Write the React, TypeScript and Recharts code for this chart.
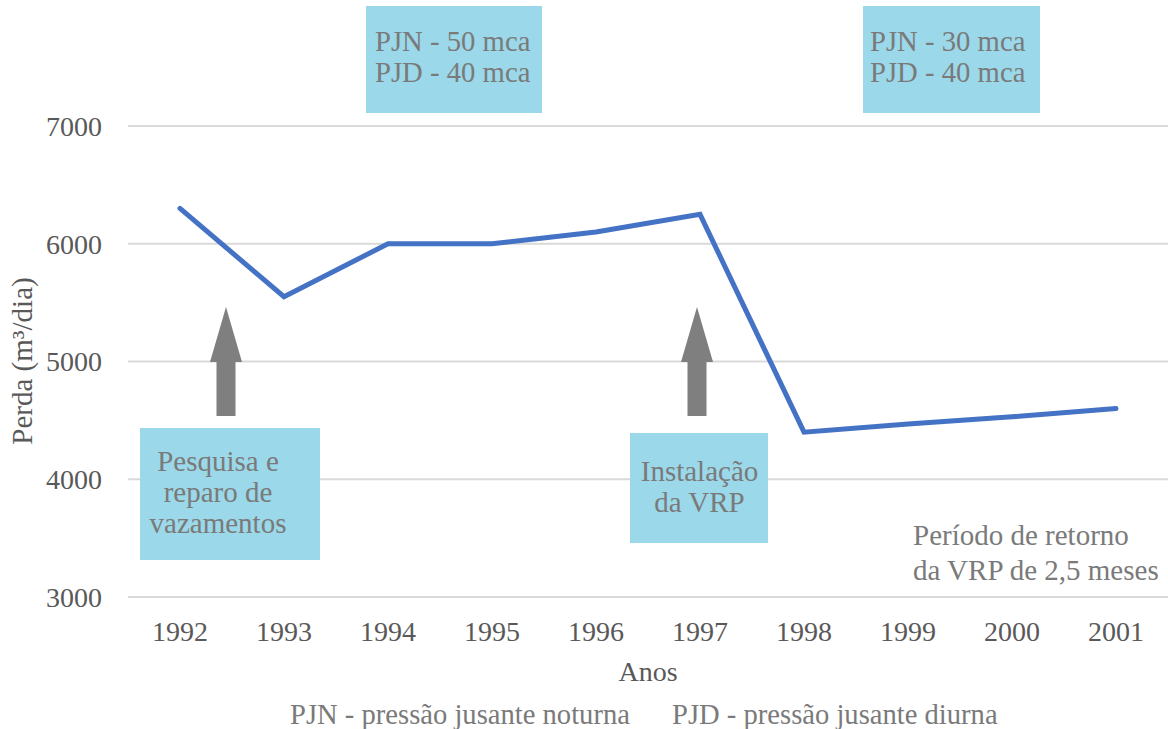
import React from 'react';
import { LineChart, Line, XAxis, YAxis, CartesianGrid } from 'recharts';

const years = ['1992', '1993', '1994', '1995', '1996', '1997', '1998', '1999', '2000', '2001'];
const perda = [6300, 5550, 6000, 6000, 6100, 6250, 4400, 4470, 4530, 4600];
const yTicks = [3000, 4000, 5000, 6000, 7000];

const data = years.map((y, i) => ({ year: y, perda: perda[i] }));

const FONT = '"Liberation Serif", "Times New Roman", serif';
const BOX = '#9bd8e9';
const TXT = '#7a7a7a';
const TICK = '#595959';

const boxStyle = (left: number, top: number, width: number, height: number): React.CSSProperties => ({
  position: 'absolute', left, top, width, height, background: BOX,
});

const textStyle = (left: number, top: number, width: number, align: 'left' | 'center', size = 29): React.CSSProperties => ({
  position: 'absolute', left, top, width, textAlign: align, fontFamily: FONT, fontSize: size,
  lineHeight: '31px', color: TXT, whiteSpace: 'nowrap',
});

function Arrow({ cx }: { cx: number }) {
  const tip = 307, base = 362, bottom = 416, hw = 16, sw = 9.5;
  return (
    <polygon
      points={`${cx},${tip} ${cx + hw},${base} ${cx + sw},${base} ${cx + sw},${bottom} ${cx - sw},${bottom} ${cx - sw},${base} ${cx - hw},${base}`}
      fill="#7f7f7f"
    />
  );
}

export default function App() {
  return (
    <div style={{ position: 'absolute', left: 0, top: 0, width: 1168, height: 729, background: '#fff', fontFamily: FONT }}>
      <LineChart width={1168} height={729} data={data} margin={{ top: 126, right: 0, bottom: 92, left: 28 }}>
        <CartesianGrid vertical={false} stroke="#d9d9d9" strokeWidth={2} />
        <XAxis
          dataKey="year"
          axisLine={false}
          tickLine={false}
          height={40}
          tickMargin={18}
          interval={0}
          padding={{ left: 52, right: 52 }}
          tick={{ fontSize: 28, fill: TICK, fontFamily: FONT }}
        />
        <YAxis
          domain={[3000, 7000]}
          ticks={yTicks}
          axisLine={false}
          tickLine={false}
          width={100}
          tickMargin={20}
          tick={{ fontSize: 28, fill: TICK, fontFamily: FONT }}
        />
        <Line
          type="linear"
          dataKey="perda"
          stroke="#4472c4"
          strokeWidth={5}
          dot={false}
          strokeLinecap="round"
          isAnimationActive={false}
        />
      </LineChart>

      <svg width={1168} height={729} style={{ position: 'absolute', left: 0, top: 0, pointerEvents: 'none' }}>
        <Arrow cx={226} />
        <Arrow cx={697} />
        <text
          x={22}
          y={361}
          transform="rotate(-90 22 361)"
          textAnchor="middle"
          dominantBaseline="central"
          fontFamily={FONT}
          fontSize={29}
          fill={TICK}
        >
          Perda (m³/dia)
        </text>
      </svg>

      <div style={boxStyle(366, 6, 176, 107)} />
      <div style={textStyle(375, 26, 170, 'left', 28.7)}>PJN - 50 mca<br />PJD - 40 mca</div>

      <div style={boxStyle(863, 6, 177, 107)} />
      <div style={textStyle(870, 26, 170, 'left', 28.7)}>PJN - 30 mca<br />PJD - 40 mca</div>

      <div style={boxStyle(140, 428, 180, 132)} />
      <div style={textStyle(140, 446, 156, 'center')}>Pesquisa e<br />reparo de<br />vazamentos</div>

      <div style={boxStyle(630, 433, 138, 110)} />
      <div style={textStyle(630, 456, 139, 'center')}>Instalação<br />da VRP</div>

      <div style={{ ...textStyle(913, 518, 260, 'left'), lineHeight: '35px' }}>Período de retorno<br />da VRP de 2,5 meses</div>

      <div style={{ position: 'absolute', left: 548, top: 656, width: 200, textAlign: 'center', fontFamily: FONT, fontSize: 28, lineHeight: '32px', color: TICK }}>Anos</div>

      <div style={{ position: 'absolute', left: 290, top: 699, fontFamily: FONT, fontSize: 28.6, lineHeight: '32px', color: TXT, whiteSpace: 'nowrap' }}>
        PJN - pressão jusante noturna
      </div>
      <div style={{ position: 'absolute', left: 672, top: 699, fontFamily: FONT, fontSize: 28.6, lineHeight: '32px', color: TXT, whiteSpace: 'nowrap' }}>
        PJD - pressão jusante diurna
      </div>
    </div>
  );
}
